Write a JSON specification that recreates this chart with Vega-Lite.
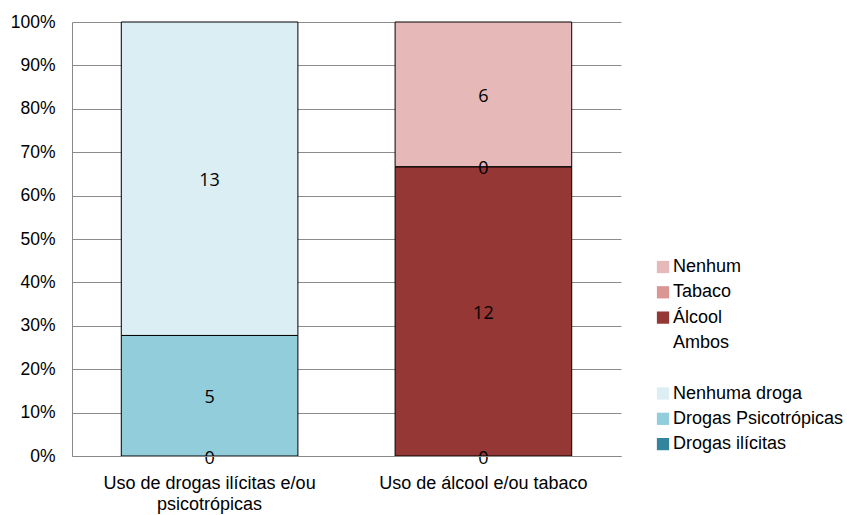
{
  "$schema": "https://vega.github.io/schema/vega-lite/v6.json",
  "width": 549,
  "height": 434,
  "autosize": "none",
  "padding": {"left": 72, "top": 22, "right": 226, "bottom": 59},
  "background": "white",
  "config": {
    "view": {"stroke": null},
    "font": "Liberation Sans"
  },
  "data": {
    "values": [
      {"grupo": "Uso de drogas ilícitas e/ou psicotrópicas", "categoria": "Drogas ilícitas", "n": 0, "ordem": 1},
      {"grupo": "Uso de drogas ilícitas e/ou psicotrópicas", "categoria": "Drogas Psicotrópicas", "n": 5, "ordem": 2},
      {"grupo": "Uso de drogas ilícitas e/ou psicotrópicas", "categoria": "Nenhuma droga", "n": 13, "ordem": 3},
      {"grupo": "Uso de álcool e/ou tabaco", "categoria": "Ambos", "n": 0, "ordem": 1},
      {"grupo": "Uso de álcool e/ou tabaco", "categoria": "Álcool", "n": 12, "ordem": 2},
      {"grupo": "Uso de álcool e/ou tabaco", "categoria": "Tabaco", "n": 0, "ordem": 3},
      {"grupo": "Uso de álcool e/ou tabaco", "categoria": "Nenhum", "n": 6, "ordem": 4}
    ]
  },
  "transform": [
    {"stack": "n", "groupby": ["grupo"], "sort": [{"field": "ordem", "order": "ascending"}], "offset": "normalize", "as": ["y0", "y1"]},
    {"calculate": "(datum.y0 + datum.y1) / 2", "as": "ymid"}
  ],
  "encoding": {
    "x": {
      "field": "grupo",
      "type": "nominal",
      "sort": ["Uso de drogas ilícitas e/ou psicotrópicas", "Uso de álcool e/ou tabaco"],
      "scale": {"paddingInner": 0.355, "paddingOuter": 0.18},
      "axis": {
        "title": null,
        "labelAngle": 0,
        "labelFontSize": 18,
        "labelColor": "#000",
        "labelPadding": 18,
        "labelLineHeight": 21,
        "labelLimit": 0,
        "ticks": false,
        "domainColor": "#888",
        "labelExpr": "datum.value == 'Uso de drogas ilícitas e/ou psicotrópicas' ? ['Uso de drogas ilícitas e/ou', 'psicotrópicas'] : datum.value"
      }
    }
  },
  "layer": [
    {
      "mark": {"type": "rect", "stroke": "black", "strokeWidth": 1},
      "encoding": {
        "y": {
          "field": "y0",
          "type": "quantitative",
          "scale": {"domain": [0, 1], "nice": false},
          "axis": {
            "title": null,
            "format": "%",
            "values": [0, 0.1, 0.2, 0.3, 0.4, 0.5, 0.6, 0.7, 0.8, 0.9, 1],
            "labelOverlap": false,
            "grid": true,
            "gridColor": "#8c8c8c",
            "ticks": false,
            "domainColor": "#888",
            "labelFontSize": 17.5,
            "labelColor": "#000",
            "labelPadding": 17
          }
        },
        "y2": {"field": "y1"},
        "color": {
          "field": "categoria",
          "type": "nominal",
          "scale": {
            "domain": ["Nenhum", "Tabaco", "Álcool", "Ambos", " ", "Nenhuma droga", "Drogas Psicotrópicas", "Drogas ilícitas"],
            "range": ["#E6B9B8", "#D99694", "#953735", "rgba(0,0,0,0)", "rgba(0,0,0,0)", "#DAEEF3", "#92CDDC", "#31859C"]
          },
          "legend": {
            "title": null,
            "orient": "none",
            "legendX": 582,
            "legendY": 236,
            "symbolType": "square",
            "symbolSize": 150,
            "symbolStrokeWidth": 0,
            "labelFontSize": 18,
            "labelLimit": 0,
            "labelColor": "#000",
            "labelOffset": 1,
            "rowPadding": 7.3,
            "values": ["Nenhum", "Tabaco", "Álcool", "Ambos", " ", "Nenhuma droga", "Drogas Psicotrópicas", "Drogas ilícitas"]
          }
        }
      }
    },
    {
      "mark": {"type": "text", "fontSize": 18, "font": "Open Sans", "color": "#000", "baseline": "middle", "dy": 2.5},
      "encoding": {
        "y": {
          "field": "ymid",
          "type": "quantitative",
          "axis": {
            "title": null,
            "format": "%",
            "values": [0, 0.1, 0.2, 0.3, 0.4, 0.5, 0.6, 0.7, 0.8, 0.9, 1],
            "labelOverlap": false,
            "grid": true,
            "gridColor": "#8c8c8c",
            "ticks": false,
            "domainColor": "#888",
            "labelFontSize": 17.5,
            "labelColor": "#000",
            "labelPadding": 17
          }
        },
        "text": {"field": "n", "type": "quantitative"}
      }
    }
  ]
}
